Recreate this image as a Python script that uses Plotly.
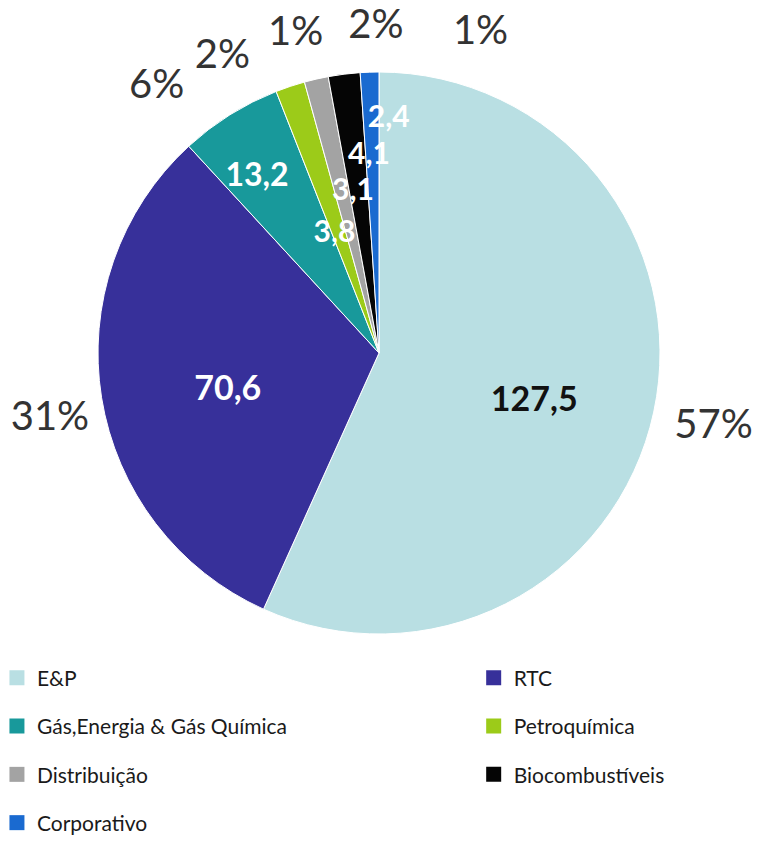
import plotly.graph_objects as go

categories = ["E&P", "RTC", "Gás,Energia & Gás Química", "Petroquímica",
              "Distribuição", "Biocombustíveis", "Corporativo"]
values = [127.5, 70.6, 13.2, 3.8, 3.1, 4.1, 2.4]
value_labels = ["127,5", "70,6", "13,2", "3,8", "3,1", "4,1", "2,4"]
pct_labels = ["57%", "31%", "6%", "2%", "1%", "2%", "1%"]
colors = ["#B9DFE3", "#37309A", "#18999B", "#9CCB19", "#A3A3A3", "#050505", "#1A6AD0"]

# label styling / placement tweaks (not data)
value_text_colors = ["#111111", "white", "white", "white", "white", "white", "white"]
value_text_sizes = [34, 34, 32, 30, 30, 30, 30]
value_label_r = [0.58, 0.555, 0.76, 0.45, 0.58, 0.70, 0.83]
value_label_dtheta = [5.6, -5, -2.8, -2.2, 3.7, 4.2, 4.3]
pct_label_r = [1.22, 1.195, 1.23, 1.19, 1.17, 1.155, 1.19]
pct_label_dtheta = [0.5, -2.3, -8, -9.5, -1.8, 6.6, 19.6]

W, H = 764, 842
cx, cy, R = 379, 353, 281
RMAX = 1.25                      # radial axis range (pie radius = 1)
RP = R * RMAX
dom_x = [(cx - RP) / W, (cx + RP) / W]
dom_y = [(H - cy - RP) / H, (H - cy + RP) / H]

font_family = "Lato, 'Open Sans', sans-serif"

total = sum(values)
mid_theta, widths = [], []
acc = 0.0
for v in values:
    widths.append(v / total * 360.0)
    mid_theta.append((acc + v / 2) / total * 360.0)
    acc += v

fig = go.Figure()

# pie slices as polar wedges
fig.add_trace(go.Barpolar(
    r=[1] * len(values), theta=mid_theta, width=widths,
    marker=dict(color=colors, line=dict(color="white", width=1)),
    hoverinfo="skip", showlegend=False,
))

# value labels
fig.add_trace(go.Scatterpolar(
    r=value_label_r,
    theta=[t + d for t, d in zip(mid_theta, value_label_dtheta)],
    text=value_labels, mode="text", textposition="middle center", cliponaxis=False,
    textfont=dict(family=font_family, size=value_text_sizes, color=value_text_colors,
                  weight="bold"),
    hoverinfo="skip", showlegend=False,
))

# percentage labels outside
fig.add_trace(go.Scatterpolar(
    r=pct_label_r,
    theta=[t + d for t, d in zip(mid_theta, pct_label_dtheta)],
    text=pct_labels, mode="text", textposition="middle center", cliponaxis=False,
    textfont=dict(family=font_family, size=40, color="#333333"),
    hoverinfo="skip", showlegend=False,
))

# legend entries (two columns)
for i, (cat, col) in enumerate(zip(categories, colors)):
    fig.add_trace(go.Scatterpolar(
        r=[None], theta=[None], mode="markers", name=cat,
        marker=dict(symbol="square", size=15, color=col),
        legend="legend" if i % 2 == 0 else "legend2",
        legendgroup=cat, hoverinfo="skip",
    ))

legend_font = dict(family=font_family, size=21, color="#1a1a1a")
fig.update_layout(
    width=W, height=H,
    margin=dict(l=0, r=0, t=0, b=0, autoexpand=False),
    paper_bgcolor="white",
    polar=dict(
        domain=dict(x=dom_x, y=dom_y),
        bgcolor="rgba(0,0,0,0)",
        bargap=0, barmode="overlay",
        radialaxis=dict(visible=False, range=[0, RMAX]),
        angularaxis=dict(visible=False, rotation=90, direction="clockwise"),
    ),
    legend=dict(x=-0.004, y=0.219, xanchor="left", yanchor="top",
                font=legend_font, tracegroupgap=18, bgcolor="rgba(0,0,0,0)"),
    legend2=dict(x=0.62, y=0.219, xanchor="left", yanchor="top",
                 font=legend_font, tracegroupgap=18, bgcolor="rgba(0,0,0,0)"),
)

fig.write_html("out.html", config={"displayModeBar": False},
               post_script="document.body.style.margin='0px';")
